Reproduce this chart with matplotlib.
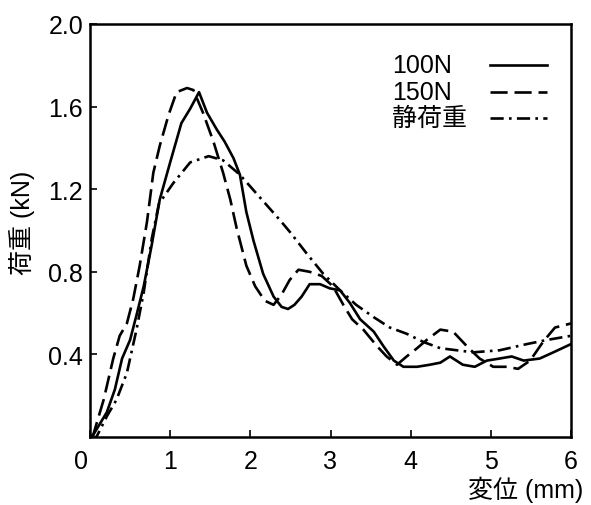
import matplotlib
matplotlib.use("Agg")
import matplotlib.pyplot as plt
from matplotlib.transforms import ScaledTranslation

plt.rcParams['font.family'] = ['Liberation Sans', 'Noto Sans CJK JP', 'DejaVu Sans']

# 100N (solid)
x100 = [0, 0.04, 0.21, 0.31, 0.40, 0.50, 0.58, 0.67, 0.77, 0.87, 1.00, 1.14, 1.25, 1.36,
        1.46, 1.58, 1.68, 1.79, 1.87, 1.95, 2.04, 2.16, 2.29, 2.39, 2.47, 2.55, 2.64, 2.74,
        2.87, 2.99, 3.12, 3.24, 3.37, 3.54, 3.66, 3.79, 3.91, 4.08, 4.24, 4.37, 4.49, 4.65,
        4.80, 4.95, 5.11, 5.26, 5.41, 5.61, 5.78, 6.00]
y100 = [0, 0.01, 0.12, 0.23, 0.38, 0.47, 0.59, 0.73, 0.93, 1.15, 1.33, 1.52, 1.59, 1.67,
        1.57, 1.49, 1.43, 1.35, 1.27, 1.09, 0.95, 0.79, 0.68, 0.63, 0.62, 0.64, 0.68, 0.74,
        0.74, 0.72, 0.71, 0.65, 0.57, 0.51, 0.44, 0.37, 0.34, 0.34, 0.35, 0.36, 0.39, 0.35,
        0.34, 0.37, 0.38, 0.39, 0.37, 0.38, 0.41, 0.45]

# 150N (dashed)
x150 = [0, 0.04, 0.17, 0.29, 0.37, 0.46, 0.54, 0.62, 0.71, 0.79, 0.87, 0.98, 1.08, 1.21,
        1.29, 1.41, 1.54, 1.66, 1.75, 1.83, 1.95, 2.06, 2.18, 2.29, 2.39, 2.49, 2.60, 2.74,
        2.89, 3.03, 3.16, 3.27, 3.41, 3.58, 3.70, 3.83, 3.95, 4.08, 4.20, 4.37, 4.53, 4.70,
        4.86, 5.03, 5.20, 5.34, 5.49, 5.65, 5.80, 6.00]
y150 = [0, 0.01, 0.18, 0.38, 0.49, 0.55, 0.67, 0.83, 1.04, 1.28, 1.41, 1.56, 1.67, 1.69,
        1.68, 1.57, 1.43, 1.28, 1.15, 1.01, 0.83, 0.73, 0.66, 0.64, 0.69, 0.76, 0.81, 0.80,
        0.78, 0.73, 0.64, 0.57, 0.52, 0.44, 0.39, 0.35, 0.39, 0.43, 0.47, 0.52, 0.51, 0.44,
        0.38, 0.34, 0.34, 0.33, 0.37, 0.46, 0.53, 0.55]

# 静荷重 (dash-dot)
xst = [0, 0.08, 0.21, 0.33, 0.46, 0.58, 0.67, 0.77, 0.86, 1.04, 1.25, 1.48, 1.66, 1.87,
       2.12, 2.37, 2.50, 2.70, 2.91, 3.12, 3.32, 3.54, 3.74, 3.95, 4.16, 4.37, 4.78, 5.11,
       5.45, 5.70, 6.00]
yst = [0, 0.0, 0.10, 0.18, 0.31, 0.52, 0.70, 0.96, 1.13, 1.23, 1.33, 1.36, 1.34, 1.27,
       1.16, 1.05, 0.99, 0.89, 0.79, 0.71, 0.64, 0.58, 0.53, 0.50, 0.46, 0.43, 0.41, 0.42,
       0.45, 0.47, 0.49]

labels = ['100N', '150N', '静荷重']
xticks = [0, 1, 2, 3, 4, 5, 6]
yticks = [0.4, 0.8, 1.2, 1.6, 2.0]
ytick_labels = ['0.4', '0.8', '1.2', '1.6', '2.0']

fig = plt.figure(figsize=(5.91, 5.06), dpi=100)
ax = fig.add_axes([90/591, 1-438/506, 481/591, 413/506])

lw = 1.9
dashed = (0, (6.5, 2.6))
dashdot = (0, (5.0, 2.0, 1.0, 2.0))
ax.plot(x100, y100, color='black', lw=lw, linestyle='-', solid_joinstyle='round')
ax.plot(x150, y150, color='black', lw=lw, linestyle=dashed)
ax.plot(xst, yst, color='black', lw=lw, linestyle=dashdot)

ax.set_xlim(0, 6)
ax.set_ylim(0, 2.0)
ax.set_xticks(xticks)
ax.set_xticklabels([str(t) for t in xticks])
ax.set_yticks(yticks)
ax.set_yticklabels(ytick_labels)
ax.tick_params(direction='in', length=5, width=1.2, labelsize=18, colors='black')
ax.tick_params(axis='x', pad=9)
ax.tick_params(axis='y', pad=5)
for s in ax.spines.values():
    s.set_linewidth(1.8)

lab0 = ax.get_xticklabels()[0]
lab0.set_transform(lab0.get_transform() + ScaledTranslation(-9/100, 0, fig.dpi_scale_trans))

# legend table
styles = ['-', dashed, dashdot]
rows_y = [0.901, 0.835, 0.772]
for lab, st, yy in zip(labels, styles, rows_y):
    ax.text(0.628, yy, lab, transform=ax.transAxes, fontsize=18, va='center', ha='left')
    ax.plot([0.832, 0.950], [yy, yy], transform=ax.transAxes, color='black', lw=lw, linestyle=st)

fig.text(583/591, 1-490/506, '変位 (mm)', fontsize=18, ha='right', va='center')
fig.text(22/591, 1-223/506, '荷重 (kN)', fontsize=18, ha='center', va='center', rotation=90)

fig.savefig('out.png', dpi=100)
